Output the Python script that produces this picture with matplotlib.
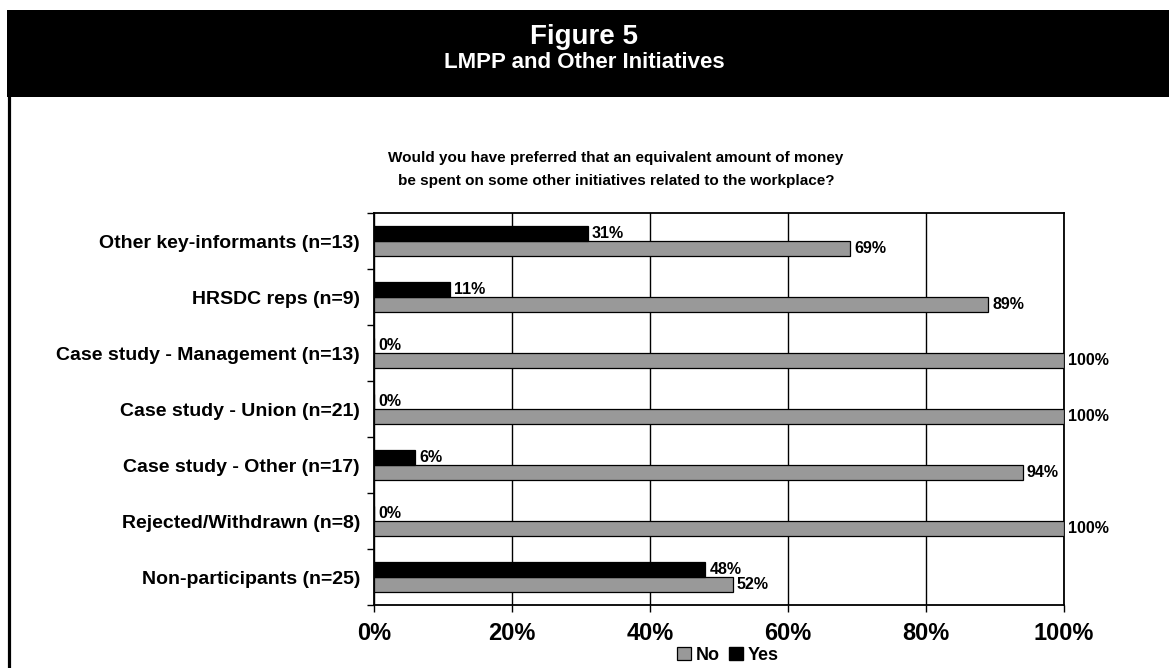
import numpy as np
import matplotlib.pyplot as plt
from matplotlib.patches import Rectangle, Patch
from matplotlib.lines import Line2D

plt.rcParams['font.family'] = ['Liberation Sans', 'DejaVu Sans']
plt.rcParams['font.weight'] = 'bold'

# Survey results (percent)
groups = [
    'Other key-informants (n=13)',
    'HRSDC reps (n=9)',
    'Case study - Management (n=13)',
    'Case study - Union (n=21)',
    'Case study - Other (n=17)',
    'Rejected/Withdrawn (n=8)',
    'Non-participants (n=25)',
]
yes_pct = [31, 11, 0, 0, 6, 0, 48]
no_pct = [69, 89, 100, 100, 94, 100, 52]
xtick_vals = [0, 20, 40, 60, 80, 100]

W, H = 1169, 668
fig = plt.figure(figsize=(W / 100, H / 100), dpi=100)
fig.patch.set_facecolor('white')

# black title band and left frame line
fig.patches.append(Rectangle((7 / W, 1 - 97 / H), 1 - 7 / W, 87 / H,
                             transform=fig.transFigure, facecolor='black',
                             edgecolor='none', zorder=0))
fig.lines.append(Line2D([8.5 / W, 8.5 / W], [0, 1 - 97 / H],
                        transform=fig.transFigure, color='black', lw=2.3))
fig.text(0.5, 1 - 37 / H, 'Figure 5', color='white', fontsize=20,
         fontweight='bold', ha='center', va='center')
fig.text(0.5, 1 - 63 / H, 'LMPP and Other Initiatives', color='white',
         fontsize=16, fontweight='bold', ha='center', va='center')

fig.text(616 / W, 1 - 158 / H,
         'Would you have preferred that an equivalent amount of money',
         fontsize=11, fontweight='bold', ha='center', va='center')
fig.text(616 / W, 1 - 181 / H,
         'be spent on some other initiatives related to the workplace?',
         fontsize=11, fontweight='bold', ha='center', va='center')

ax = fig.add_axes([374 / W, 1 - 605 / H, 690 / W, 392 / H])

y = np.arange(len(groups))
h = 0.27
gray = '#999999'
ax.barh(y + h / 2, no_pct, height=h, color=gray, edgecolor='black',
        linewidth=0.9, zorder=3, label='No')
ax.barh(y - h / 2, yes_pct, height=h, color='black', edgecolor='black',
        linewidth=0.9, zorder=3, label='Yes')

for i in range(len(groups)):
    ax.annotate(f'{yes_pct[i]}%', (yes_pct[i], y[i] - h / 2),
                xytext=(3, 0), textcoords='offset points',
                ha='left', va='center', fontsize=11.5, fontweight='bold')
    ax.annotate(f'{no_pct[i]}%', (no_pct[i], y[i] + h / 2),
                xytext=(3, 0), textcoords='offset points',
                ha='left', va='center', fontsize=11.5, fontweight='bold')

ax.set_xlim(0, 100)
ax.set_ylim(len(groups) - 0.5, -0.5)
ax.set_xticks(xtick_vals)
ax.set_xticklabels([f'{v}%' for v in xtick_vals], fontsize=17,
                   fontweight='bold')
ax.tick_params(axis='x', length=5, width=1, pad=7, direction='out')
ax.set_yticks(y)
ax.set_yticklabels(groups, fontsize=14, fontweight='bold')
ax.tick_params(axis='y', which='major', length=0, pad=10)
ax.set_yticks(np.arange(len(groups) + 1) - 0.5, minor=True)
ax.tick_params(axis='y', which='minor', length=5, width=1)

ax.grid(axis='x', color='black', linewidth=1, zorder=1)
ax.set_axisbelow(True)
for s in ax.spines.values():
    s.set_color('black')
    s.set_linewidth(1.3)

handles = [Patch(facecolor=gray, edgecolor='black', linewidth=0.9, label='No'),
           Patch(facecolor='black', edgecolor='black', label='Yes')]
fig.legend(handles=handles, loc='center', bbox_to_anchor=(728 / W, 1 - 655 / H),
           ncol=2, frameon=False, handlelength=0.75, handleheight=0.75,
           handletextpad=0.3, columnspacing=0.5,
           prop={'weight': 'bold', 'size': 13})

fig.savefig('out.png', dpi=100)
